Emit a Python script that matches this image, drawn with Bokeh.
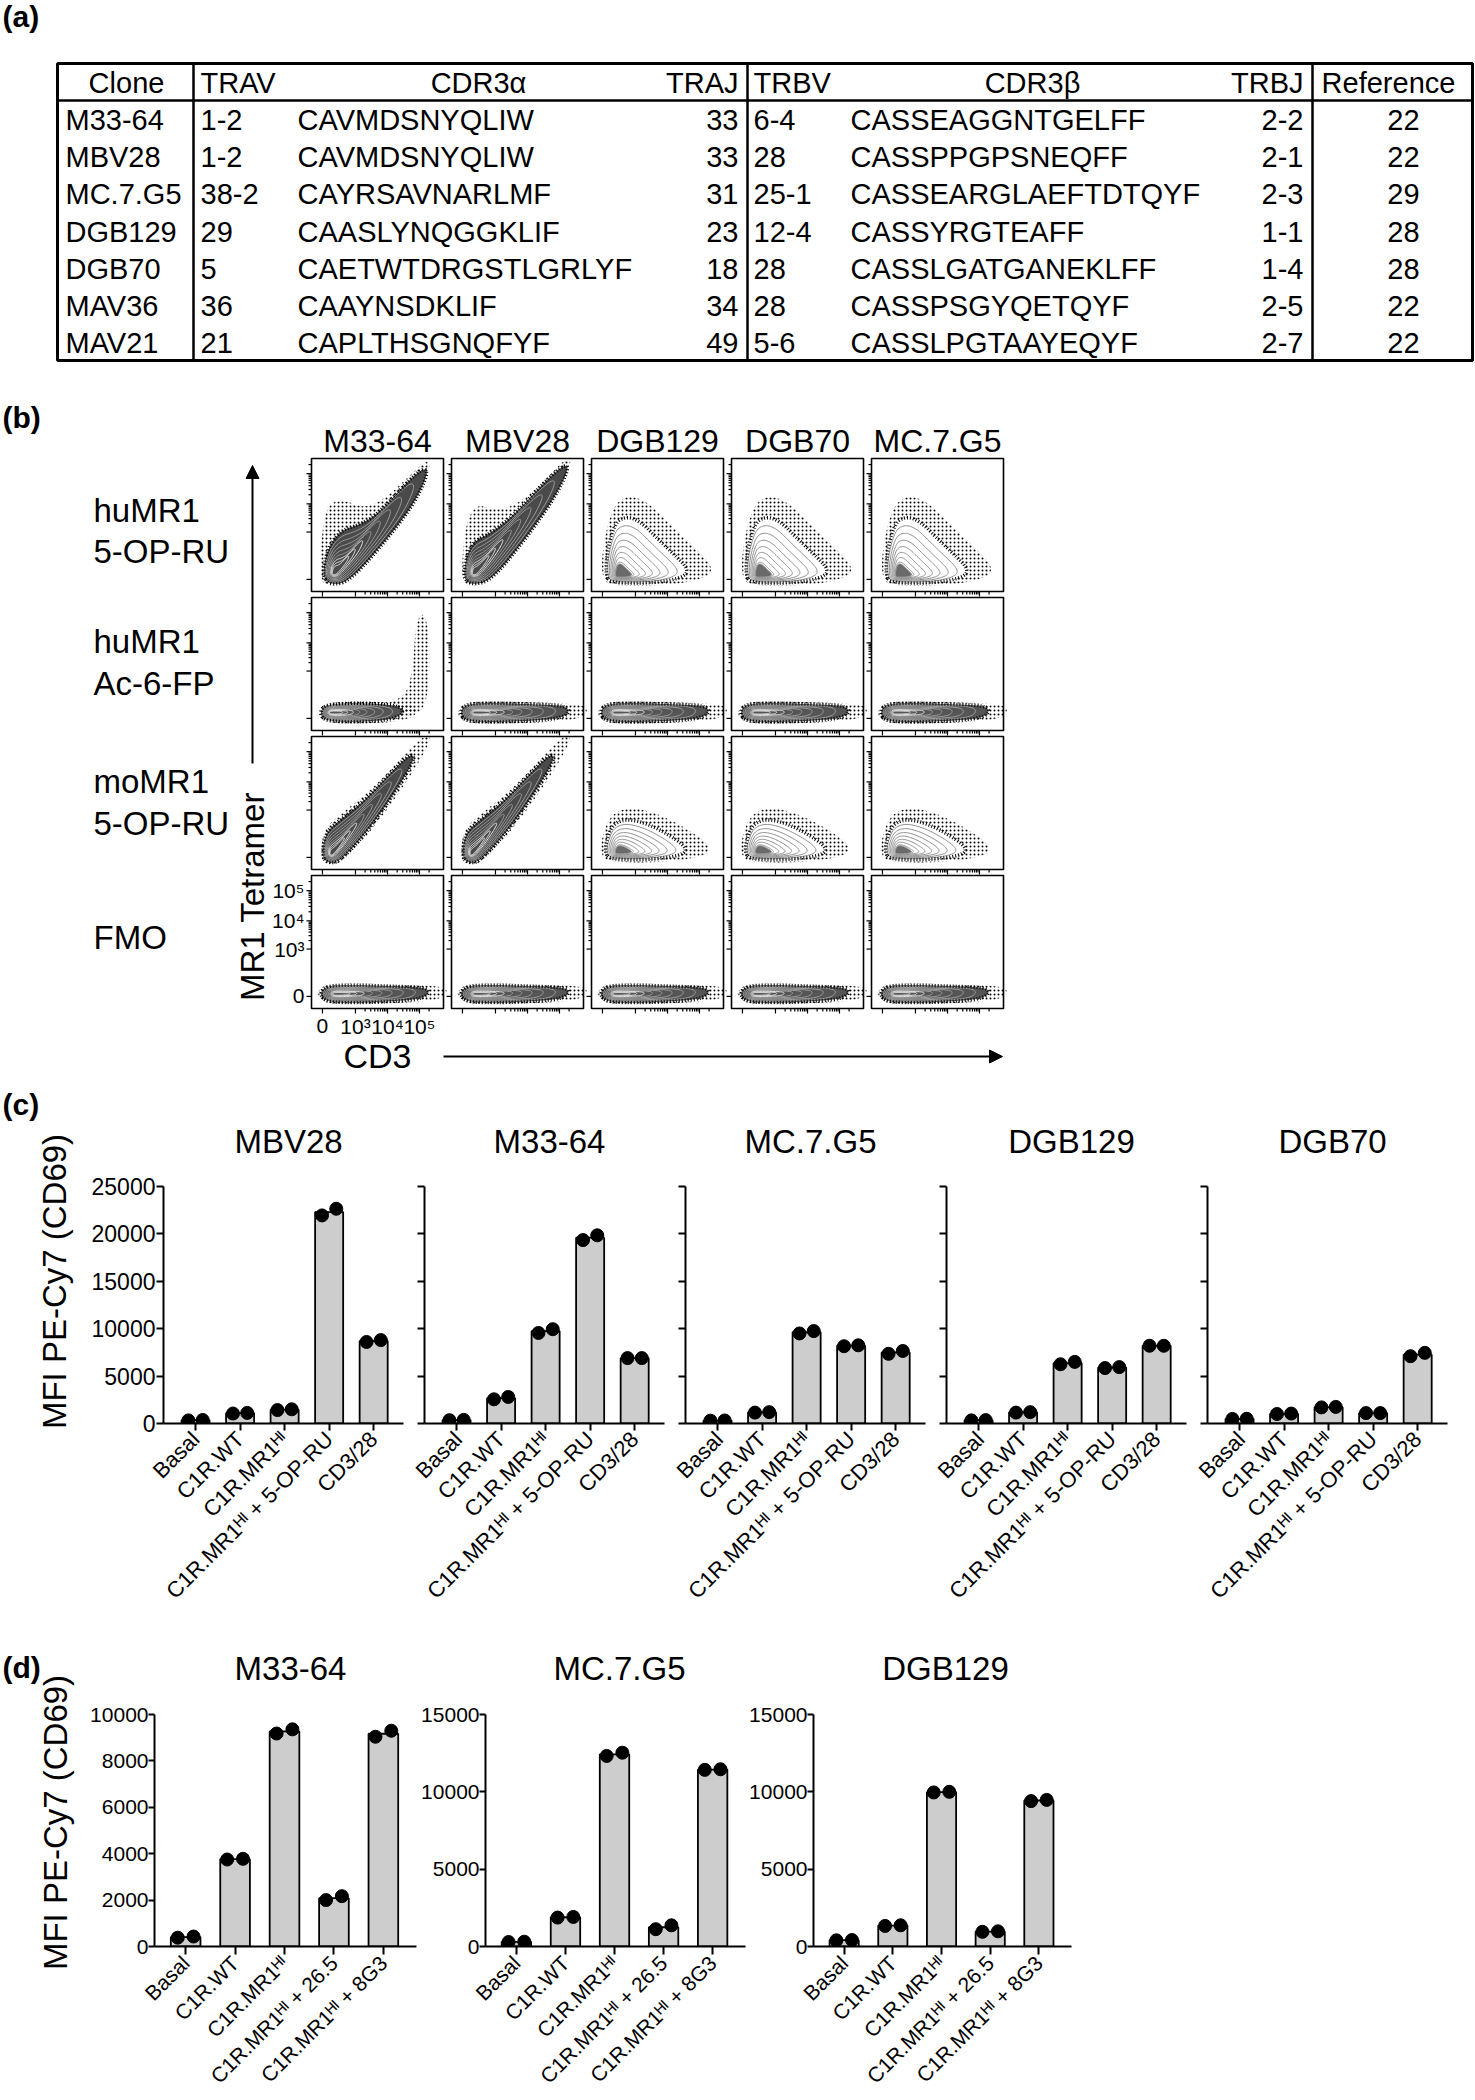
import numpy as np
from math import pi, log10
from bokeh.plotting import figure
from bokeh.models import Range1d, FixedTicker, Arrow, NormalHead
from bokeh.layouts import column, row
from bokeh.core.properties import value
from bokeh.embed import file_html
from bokeh.resources import INLINE

FONT = "Liberation Sans"
MID = 0.35  # baseline -> middle offset (em)

# ---------------- (a) table ----------------
table_headers = ["Clone", "TRAV", "CDR3α", "TRAJ", "TRBV", "CDR3β", "TRBJ", "Reference"]
clones = ["M33-64", "MBV28", "MC.7.G5", "DGB129", "DGB70", "MAV36", "MAV21"]
trav = ["1-2", "1-2", "38-2", "29", "5", "36", "21"]
cdr3a = ["CAVMDSNYQLIW", "CAVMDSNYQLIW", "CAYRSAVNARLMF", "CAASLYNQGGKLIF",
         "CAETWTDRGSTLGRLYF", "CAAYNSDKLIF", "CAPLTHSGNQFYF"]
traj = ["33", "33", "31", "23", "18", "34", "49"]
trbv = ["6-4", "28", "25-1", "12-4", "28", "28", "5-6"]
cdr3b = ["CASSEAGGNTGELFF", "CASSPPGPSNEQFF", "CASSEARGLAEFTDTQYF", "CASSYRGTEAFF",
         "CASSLGATGANEKLFF", "CASSPSGYQETQYF", "CASSLPGTAAYEQYF"]
trbj = ["2-2", "2-1", "2-3", "1-1", "1-4", "2-5", "2-7"]
references = ["22", "22", "29", "28", "28", "22", "22"]

# ---------------- (b) flow panels ----------------
flow_clones = ["M33-64", "MBV28", "DGB129", "DGB70", "MC.7.G5"]
flow_row_labels = [["huMR1", "5-OP-RU"], ["huMR1", "Ac-6-FP"], ["moMR1", "5-OP-RU"], ["FMO"]]
flow_tick_labels = ["0", "10³", "10⁴", "10⁵"]
flow_y_ticks = [0.091, 0.447, 0.659, 0.886]
flow_x_ticks = [0.083, 0.333, 0.576, 0.818]

# event-cloud outlines (normalised panel coordinates) and density peaks
diag_hu_a_x = [0.07, 0.10, 0.22, 0.40, 0.60, 0.78, 0.87, 0.84, 0.72, 0.55, 0.40, 0.25, 0.13, 0.08]
diag_hu_a_y = [0.12, 0.05, 0.05, 0.22, 0.47, 0.74, 0.90, 0.95, 0.84, 0.68, 0.60, 0.66, 0.64, 0.42]
diag_hu_a_peak = (0.17, 0.14)
diag_hu_a_core_x = [0.08, 0.14, 0.28, 0.52, 0.76, 0.88, 0.86, 0.72, 0.50, 0.36, 0.22, 0.12]
diag_hu_a_core_y = [0.12, 0.05, 0.07, 0.33, 0.63, 0.87, 0.94, 0.82, 0.58, 0.50, 0.46, 0.32]
diag_hu_b_x = [0.08, 0.12, 0.24, 0.45, 0.65, 0.80, 0.88, 0.83, 0.68, 0.50, 0.33, 0.18, 0.10]
diag_hu_b_y = [0.10, 0.05, 0.05, 0.30, 0.58, 0.82, 0.94, 0.96, 0.80, 0.64, 0.58, 0.64, 0.45]
diag_hu_b_peak = (0.17, 0.14)
diag_hu_b_core_x = [0.09, 0.15, 0.30, 0.55, 0.78, 0.89, 0.86, 0.70, 0.48, 0.30, 0.17, 0.11]
diag_hu_b_core_y = [0.10, 0.05, 0.08, 0.38, 0.70, 0.92, 0.96, 0.82, 0.58, 0.44, 0.38, 0.26]
fan_hu_x = [0.08, 0.12, 0.40, 0.70, 0.90, 0.91, 0.78, 0.60, 0.44, 0.31, 0.19, 0.12, 0.08]
fan_hu_y = [0.12, 0.05, 0.04, 0.06, 0.12, 0.20, 0.33, 0.50, 0.66, 0.72, 0.68, 0.50, 0.28]
fan_hu_peak = (0.20, 0.12)
flat_x = [0.06, 0.10, 0.30, 0.60, 0.85, 0.92, 0.88, 0.60, 0.30, 0.10]
flat_y = [0.13, 0.07, 0.06, 0.07, 0.09, 0.14, 0.19, 0.20, 0.21, 0.20]
flat_peak = (0.18, 0.135)
flat_fmo_y = [0.11, 0.05, 0.04, 0.05, 0.07, 0.12, 0.16, 0.17, 0.18, 0.17]
flat_fmo_peak = (0.18, 0.11)
flat_ac_x = [0.06, 0.10, 0.35, 0.62, 0.72, 0.68, 0.40, 0.10]
flat_ac_y = [0.13, 0.07, 0.06, 0.08, 0.13, 0.19, 0.21, 0.20]
flat_ac_peak = (0.15, 0.135)
cloud_ac_x = [0.55, 0.72, 0.77, 0.79, 0.86, 0.90, 0.88, 0.80, 0.68]
cloud_ac_y = [0.20, 0.26, 0.48, 0.82, 0.90, 0.62, 0.22, 0.12, 0.14]
diag_mo_x = [0.07, 0.12, 0.22, 0.45, 0.68, 0.85, 0.83, 0.70, 0.45, 0.25, 0.10]
diag_mo_y = [0.10, 0.04, 0.05, 0.30, 0.62, 0.90, 0.96, 0.85, 0.58, 0.42, 0.30]
diag_mo_peak = (0.15, 0.12)
fan_mo_x = [0.07, 0.12, 0.40, 0.70, 0.90, 0.88, 0.70, 0.50, 0.30, 0.15, 0.08]
fan_mo_y = [0.12, 0.06, 0.05, 0.07, 0.12, 0.20, 0.32, 0.42, 0.47, 0.42, 0.25]
fan_mo_peak = (0.20, 0.13)

shapes = {
    "diag_hu_a": (diag_hu_a_x, diag_hu_a_y, diag_hu_a_peak),
    "diag_hu_b": (diag_hu_b_x, diag_hu_b_y, diag_hu_b_peak),
    "fan_hu": (fan_hu_x, fan_hu_y, fan_hu_peak),
    "flat": (flat_x, flat_y, flat_peak),
    "flat_fmo": (flat_x, flat_fmo_y, flat_fmo_peak),
    "flat_ac": (flat_ac_x, flat_ac_y, flat_ac_peak),
    "diag_mo": (diag_mo_x, diag_mo_y, diag_mo_peak),
    "fan_mo": (fan_mo_x, fan_mo_y, fan_mo_peak),
}
cores = {
    "diag_hu_a": (diag_hu_a_core_x, diag_hu_a_core_y),
    "diag_hu_b": (diag_hu_b_core_x, diag_hu_b_core_y),
}
shape_grid = [
    ["diag_hu_a", "diag_hu_b", "fan_hu", "fan_hu", "fan_hu"],
    ["flat_ac", "flat", "flat", "flat", "flat"],
    ["diag_mo", "diag_mo", "fan_mo", "fan_mo", "fan_mo"],
    ["flat_fmo", "flat_fmo", "flat_fmo", "flat_fmo", "flat_fmo"],
]

# ---------------- (c) CD69 activation ----------------
c_clones = ["MBV28", "M33-64", "MC.7.G5", "DGB129", "DGB70"]
c_conditions = ["Basal", "C1R.WT", "C1R.MR1ᴴᴵ", "C1R.MR1ᴴᴵ + 5-OP-RU", "CD3/28"]
c_mbv28_r1 = [330, 1050, 1420, 21950, 8600]
c_mbv28_r2 = [370, 1120, 1500, 22650, 8800]
c_m3364_r1 = [350, 2550, 9550, 19350, 6900]
c_m3364_r2 = [380, 2800, 9950, 19850, 6900]
c_mc7g5_r1 = [300, 1150, 9500, 8150, 7350]
c_mc7g5_r2 = [320, 1200, 9750, 8250, 7650]
c_dgb129_r1 = [330, 1150, 6250, 5850, 8200]
c_dgb129_r2 = [360, 1200, 6500, 5950, 8200]
c_dgb70_r1 = [480, 1000, 1700, 1100, 7100]
c_dgb70_r2 = [500, 1050, 1750, 1100, 7450]
c_yticks = [0, 5000, 10000, 15000, 20000, 25000]

# ---------------- (d) blocking ----------------
d_clones = ["M33-64", "MC.7.G5", "DGB129"]
d_conditions = ["Basal", "C1R.WT", "C1R.MR1ᴴᴵ", "C1R.MR1ᴴᴵ + 26.5", "C1R.MR1ᴴᴵ + 8G3"]
d_m3364_r1 = [380, 3750, 9180, 2000, 9040]
d_m3364_r2 = [430, 3780, 9360, 2170, 9300]
d_mc7g5_r1 = [290, 1870, 12320, 1120, 11420]
d_mc7g5_r2 = [310, 1910, 12530, 1370, 11460]
d_dgb129_r1 = [400, 1330, 9960, 950, 9400]
d_dgb129_r2 = [420, 1370, 10000, 980, 9480]
d_yticks = [[0, 2000, 4000, 6000, 8000, 10000], [0, 5000, 10000, 15000], [0, 5000, 10000, 15000]]
d_ymax = [10000, 15000, 15000]

Y_LABEL = "MFI PE-Cy7 (CD69)"


def txt(p, xs, ys, texts, size, align="left", style="normal", angle=0.0, baseline=True):
    """ys are alphabetic baselines (page px) unless baseline=False (then centres)."""
    sz = float(size.replace("px", ""))
    yc = [y - MID * sz for y in ys] if baseline else ys
    p.text(x=xs, y=yc, text=texts, text_font=value(FONT), text_font_size=value(size),
           text_align=value(align), text_baseline=value("middle"),
           text_font_style=value(style), angle=angle, text_color="black")


def canvas(x0, x1, y0, y1):
    """A blank figure whose data coordinates are page pixels."""
    p = figure(width=x1 - x0, height=y1 - y0, x_range=Range1d(x0, x1), y_range=Range1d(y1, y0),
               x_axis_type=None, y_axis_type=None, min_border=0, toolbar_location=None,
               output_backend="svg", title=None)
    p.outline_line_color = None
    return p


def chaikin(xs, ys, n=3):
    pts = list(zip(xs, ys))
    for _ in range(n):
        new = []
        for i in range(len(pts)):
            (x0, y0), (x1, y1) = pts[i], pts[(i + 1) % len(pts)]
            new.append((0.75 * x0 + 0.25 * x1, 0.75 * y0 + 0.25 * y1))
            new.append((0.25 * x0 + 0.75 * x1, 0.25 * y0 + 0.75 * y1))
        pts = new
    return [p[0] for p in pts], [p[1] for p in pts]


# =============== top figure: table + flow panels ===============
TOP_H = 1122
top = canvas(0, 1475, 0, TOP_H)

txt(top, [2], [26], ["(a)"], "30px", style="bold")
txt(top, [2], [427], ["(b)"], "30px", style="bold")
txt(top, [2], [1114], ["(c)"], "30px", style="bold")

TL, TR, TT, TB, TH = 57, 1472, 63, 360, 100
top.quad(left=[TL], right=[TR], top=[TT], bottom=[TB], fill_color=None, line_color="black", line_width=3)
top.segment(x0=[TL], y0=[TH], x1=[TR], y1=[TH], line_color="black", line_width=2.5)
vsep = [193, 747, 1312]
top.segment(x0=vsep, y0=[TT] * 3, x1=vsep, y1=[TB] * 3, line_color="black", line_width=2.5)

hdr_x = [126, 200, 478, 738, 753, 1032, 1303, 1388]
hdr_al = ["center", "left", "center", "right", "left", "center", "right", "center"]
for hx, ha, ht in zip(hdr_x, hdr_al, table_headers):
    txt(top, [hx], [92.5], [ht], "29px", align=ha)
row_base = [130 + 37.05 * i for i in range(len(clones))]
col_x = [65, 200, 297, 738, 753, 850, 1303, 1403]
col_al = ["left", "left", "left", "right", "left", "left", "right", "center"]
for cx, ca, cv in zip(col_x, col_al, [clones, trav, cdr3a, traj, trbv, cdr3b, trbj, references]):
    txt(top, [cx] * len(cv), row_base, cv, "29px", align=ca)

# ---- flow cytometry grid ----
PX0 = [311, 451, 591, 731, 871]
PY0 = [458, 597, 736, 875]
PW, PH = 132, 133

txt(top, [PX0[i] + PW / 2 for i in range(5)], [452] * 5, flow_clones, "32px", align="center")
row_label_base = [[522, 563], [653, 695], [793, 835], [949]]
for labs, bases in zip(flow_row_labels, row_label_base):
    txt(top, [93] * len(labs), bases, labs, "33px")

# style per population type: (speckle extent, contour extent, interior fill, contour colours)
style = {"fan": (1.0, 0.74, "white", ["#8f8f8f"] * 8),
         "diag": (1.08, 0.9, "#4a4a4a", ["#9a9a9a"] * 5 + ["#e6e6e6"] * 3),
         "flat": (1.16, 0.97, "#555555", ["#9f9f9f"] * 5 + ["#e6e6e6"] * 3)}
levels = [0.86, 0.73, 0.61, 0.50, 0.40, 0.31, 0.23, 0.16]
hx_, hy_, fx_, fy_, fc_, ex_, ey_ = [], [], [], [], [], [], []
cx_, cy_, cc_ = [], [], []
kx_, ky_ = [], []
for ri in range(4):
    for ci in range(5):
        key = shape_grid[ri][ci]
        kind = key.split("_")[0]
        spk, cext, fill, ccols = style[kind]
        sx, sy, (pkx, pky) = shapes[key]
        sx, sy = chaikin(sx, sy)
        if key in cores:
            qx, qy = chaikin(*cores[key])
            cext, spk = 1.0, 1.05
        else:
            qx, qy = sx, sy

        def scaled(s, xs_=sx, ys_=sy):
            return ([PX0[ci] + PW * (pkx + s * (v - pkx)) for v in xs_],
                    [PY0[ri] + PH * (1 - (pky + s * (v - pky))) for v in ys_])

        a, b = scaled(spk); hx_.append(a); hy_.append(b)
        a, b = scaled(cext, qx, qy); fx_.append(a); fy_.append(b); fc_.append(fill)
        ex_.append(a); ey_.append(b)
        for lv, col in zip(levels, ccols):
            a, b = scaled(cext * lv, qx, qy)
            cx_.append(a); cy_.append(b); cc_.append(col)
        if kind == "fan":
            a, b = scaled(cext * 0.2)
            kx_.append(a); ky_.append(b)
        if key == "flat_ac":
            a, b = chaikin(cloud_ac_x, cloud_ac_y)
            hx_.append([PX0[ci] + PW * v for v in a])
            hy_.append([PY0[ri] + PH * (1 - v) for v in b])

# sparse events (speckle), dense interior, contours, dense cores and black rim
top.patches(xs=hx_, ys=hy_, fill_color=None, line_color=None,
            hatch_pattern="dot", hatch_color="black", hatch_scale=4, hatch_weight=1.2)
top.patches(xs=fx_, ys=fy_, fill_color=fc_, line_color=None)
top.patches(xs=cx_, ys=cy_, fill_color=None, line_color=cc_, line_width=1)
top.patches(xs=kx_, ys=ky_, fill_color="#6a6a6a", line_color="#9a9a9a", line_width=1)
top.patches(xs=ex_, ys=ey_, fill_color=None, line_color="black", line_width=3.5, line_dash="1 2")

fl, fr, ft, fb = [], [], [], []
for ri in range(4):
    for ci in range(5):
        fl.append(PX0[ci]); fr.append(PX0[ci] + PW); ft.append(PY0[ri]); fb.append(PY0[ri] + PH)
top.quad(left=fl, right=fr, top=ft, bottom=fb, fill_color=None, line_color="black", line_width=1.6)


def minor_positions(major):
    out = []
    for a, b in zip(major[1:-1], major[2:]):
        out += [a + (b - a) * log10(k) for k in range(2, 10)]
    out.append(major[-1] + (major[-1] - major[-2]) * log10(2))
    return out


ymin_t = minor_positions(flow_y_ticks)
xmin_t = minor_positions(flow_x_ticks)
tx0, ty0, tx1, ty1 = [], [], [], []
for ri in range(4):
    for ci in range(5):
        x0, y0 = PX0[ci], PY0[ri]
        for v, ln in [(t, 5) for t in flow_y_ticks] + [(t, 3) for t in ymin_t]:
            yy = y0 + PH * (1 - v)
            tx0.append(x0); ty0.append(yy); tx1.append(x0 - ln); ty1.append(yy)
        for v, ln in [(t, 5) for t in flow_x_ticks] + [(t, 3) for t in xmin_t]:
            xx = x0 + PW * v
            tx0.append(xx); ty0.append(y0 + PH); tx1.append(xx); ty1.append(y0 + PH + ln)
top.segment(x0=tx0, y0=ty0, x1=tx1, y1=ty1, line_color="black", line_width=1.2)

txt(top, [PX0[0] - 7] * 4, [PY0[3] + PH * (1 - v) for v in flow_y_ticks], flow_tick_labels,
    "21px", align="right", baseline=False)
txt(top, [PX0[0] + PW * v for v in flow_x_ticks], [1033] * 4, flow_tick_labels, "21px", align="center")

txt(top, [252], [896], ["MR1 Tetramer"], "33px", align="center", angle=pi / 2, baseline=False)
top.add_layout(Arrow(end=NormalHead(size=13, fill_color="black", line_color="black"),
                     x_start=252, y_start=763, x_end=252, y_end=465, line_width=2, line_color="black"))
txt(top, [377], [1067], ["CD3"], "34px", align="center")
top.add_layout(Arrow(end=NormalHead(size=13, fill_color="black", line_color="black"),
                     x_start=443, y_start=1056, x_end=1002, y_end=1056, line_width=2, line_color="black"))


# =============== bar charts ===============
def bar_fig(page_x0, page_x1, page_y0, page_y1, fl, fw, ftop, f0, xlo, xhi, ymax, yticks,
            conds, r1, r2, show_ylab, ytick_font, cat_font, bar_w, dot_dx, xtick_out, ytick_out,
            ylab_standoff):
    p = figure(width=page_x1 - page_x0, height=page_y1 - page_y0,
               x_range=Range1d(xlo, xhi), y_range=Range1d(0, ymax),
               output_backend="svg", toolbar_location=None, title=None,
               min_border_left=fl - page_x0, min_border_right=page_x1 - (fl + fw),
               min_border_top=ftop - page_y0, min_border_bottom=page_y1 - f0)
    p.outline_line_color = None
    p.xgrid.visible = False
    p.ygrid.visible = False
    idx = list(range(len(conds)))
    means = [(a + b) / 2 for a, b in zip(r1, r2)]
    p.vbar(x=idx, top=means, bottom=0, width=bar_w, fill_color="#cdcdcd",
           line_color="black", line_width=1.8)
    p.scatter(x=[i - dot_dx for i in idx], y=r1, size=13, fill_color="black", line_color="black")
    p.scatter(x=[i + dot_dx for i in idx], y=r2, size=13, fill_color="black", line_color="black")
    xa = p.xaxis[0]
    xa.ticker = FixedTicker(ticks=idx)
    xa.major_label_overrides = {i: c for i, c in zip(idx, conds)}
    xa.major_label_orientation = pi / 4
    xa.major_label_text_font = FONT
    xa.major_label_text_font_size = f"{cat_font}px"
    xa.major_label_text_color = "black"
    xa.major_label_standoff = 5
    xa.axis_line_width = 2
    xa.major_tick_line_width = 2
    xa.major_tick_out = xtick_out
    xa.major_tick_in = 0
    xa.minor_tick_line_color = None
    ya = p.yaxis[0]
    ya.ticker = FixedTicker(ticks=yticks)
    ya.axis_line_width = 2
    ya.major_tick_line_width = 2
    ya.major_tick_out = ytick_out
    ya.major_tick_in = 0
    ya.minor_tick_line_color = None
    ya.major_label_standoff = ylab_standoff
    ya.major_label_text_font = FONT
    ya.major_label_text_font_size = f"{ytick_font}px"
    ya.major_label_text_color = "black"
    if not show_ylab:
        ya.major_label_overrides = {t: "" for t in yticks}
    return p


LEFT_W = 80

# ---- row (c): page y 1122..1645 ----
C_Y0, C_TY, C_Y1, C_FT, C_F0 = 1122, 1172, 1645, 1186, 1423
C_FL = [163, 424, 685, 946, 1207]
C_FW = 240
C_B = [LEFT_W, 410, 671, 932, 1193, 1475]
C_XLO, C_XHI = -0.72, 4.67
c_r1 = [c_mbv28_r1, c_m3364_r1, c_mc7g5_r1, c_dgb129_r1, c_dgb70_r1]
c_r2 = [c_mbv28_r2, c_m3364_r2, c_mc7g5_r2, c_dgb129_r2, c_dgb70_r2]

c_ylab = canvas(0, LEFT_W, C_Y0, C_Y1)
txt(c_ylab, [54], [1281], [Y_LABEL], "33px", align="center", angle=pi / 2, baseline=False)
c_titles = canvas(LEFT_W, 1475, C_Y0, C_TY)
txt(c_titles, [x + C_FW / 2 + 5 for x in C_FL], [1153] * 5, c_clones, "33px", align="center")
c_figs = []
for i in range(5):
    c_figs.append(bar_fig(C_B[i], C_B[i + 1], C_TY, C_Y1, C_FL[i], C_FW, C_FT, C_F0, C_XLO, C_XHI,
                          25000, c_yticks, c_conditions, c_r1[i], c_r2[i], i == 0,
                          ytick_font=23, cat_font=22, bar_w=0.63, dot_dx=0.16, xtick_out=7,
                          ytick_out=7, ylab_standoff=1))
row_c = row(c_ylab, column(c_titles, row(*c_figs)))

# ---- row (d): page y 1645..2098 ----
D_Y0, D_TY, D_Y1, D_FT, D_F0 = 1645, 1698, 2098, 1714, 1947
D_FL = [154, 483, 809]
D_FW = 262
D_B = [LEFT_W, 418, 746, 1475]
D_XLO, D_XHI = -0.63, 4.67
d_r1 = [d_m3364_r1, d_mc7g5_r1, d_dgb129_r1]
d_r2 = [d_m3364_r2, d_mc7g5_r2, d_dgb129_r2]

d_ylab = canvas(0, LEFT_W, D_Y0, D_Y1)
txt(d_ylab, [2], [1677], ["(d)"], "30px", style="bold")
txt(d_ylab, [55], [1822], [Y_LABEL], "33px", align="center", angle=pi / 2, baseline=False)
d_titles = canvas(LEFT_W, 1475, D_Y0, D_TY)
txt(d_titles, [x + D_FW / 2 + 5 for x in D_FL], [1680] * 3, d_clones, "33px", align="center")
d_figs = []
for i in range(3):
    d_figs.append(bar_fig(D_B[i], D_B[i + 1], D_TY, D_Y1, D_FL[i], D_FW, D_FT, D_F0, D_XLO, D_XHI,
                          d_ymax[i], d_yticks[i], d_conditions, d_r1[i], d_r2[i], True,
                          ytick_font=21, cat_font=21, bar_w=0.6, dot_dx=0.16, xtick_out=8,
                          ytick_out=6, ylab_standoff=0))
row_d = row(d_ylab, column(d_titles, row(*d_figs)))

layout = column(top, row_c, row_d)
open("out.html", "w").write(file_html(layout, INLINE))
